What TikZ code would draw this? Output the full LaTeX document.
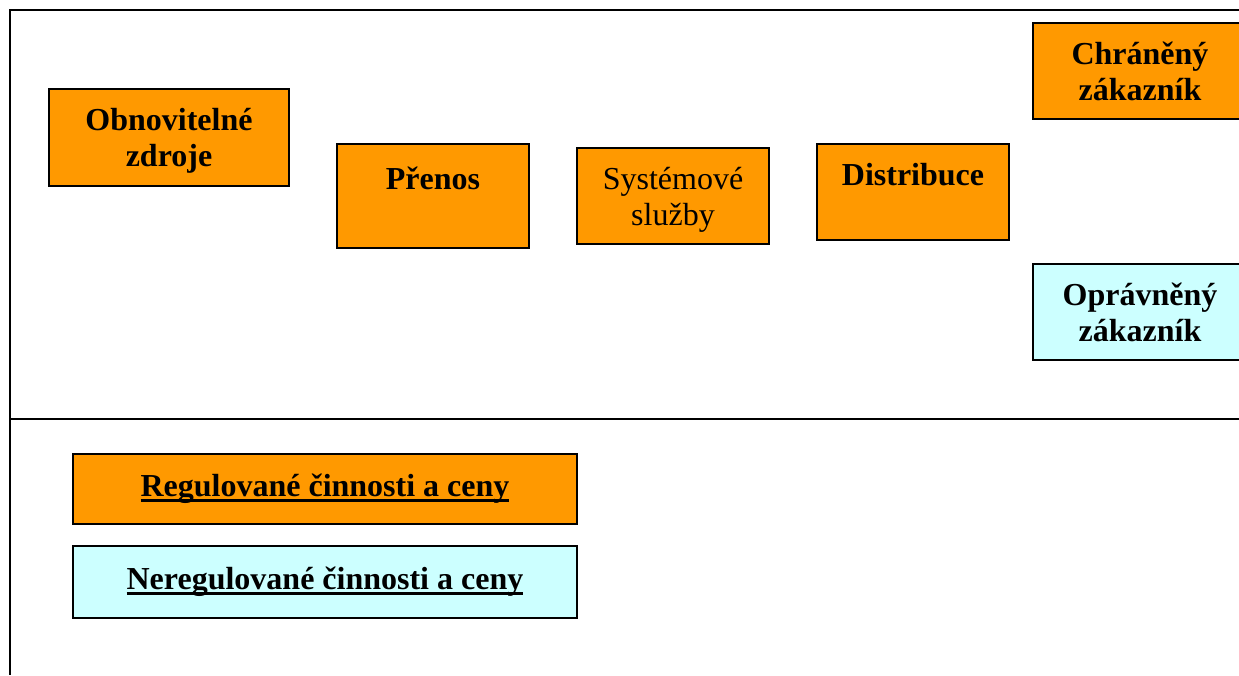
\documentclass[tikz,border=0pt]{standalone}
\usepackage{fontspec}
\setmainfont{Liberation Serif}
\usetikzlibrary{positioning}

\definecolor{regorange}{RGB}{255,153,0}
\definecolor{freecyan}{RGB}{204,255,255}

\newcommand{\thickul}[1]{\setbox0\hbox{#1}\rlap{\rule[-5pt]{\wd0}{3pt}}\box0}

\tikzset{
  box/.style={draw, line width=1.6pt, inner sep=0pt, align=center,
    font=\fontsize{32}{36}\selectfont\bfseries},
  reg/.style={box, fill=regorange},
  free/.style={box, fill=freecyan},
  low/.style={text depth=0pt},
  frame/.style={line width=2pt}
}

\begin{document}
\begin{tikzpicture}[x=1pt,y=-1pt,node distance=240pt,on grid]
      \useasboundingbox (0,0) rectangle (1239,675);
      \clip (0,0) rectangle (1239,675);
      % frame
      \coordinate (tr) at (1239,10);
      \coordinate (bl) at (10,675);
      \coordinate (ml) at (10,419);
      \coordinate (mr) at (1239,419);
      \draw[frame] (tr) -| (bl);
      \draw[frame] (ml) -- (mr);
      % upper part
      \node[reg, low, minimum width=240pt, minimum height=97pt] (obn) at (169,137.5) {Obnovitelné\\zdroje};
      \node[reg, low, minimum width=192pt, minimum height=104pt] (pre) at (433,196) {Přenos\\\strut};
      \node[reg, low, minimum width=192pt, minimum height=96pt, font=\fontsize{32}{36}\selectfont\mdseries] (sys) [right=of pre] {Systémové\\služby};
      \node[reg, low, minimum width=192pt, minimum height=96pt] (dis) [right=of sys, yshift=4pt] {Distribuce\\\strut};
      \node[reg, low, minimum width=214pt, minimum height=96pt] (chr) at (1140,71) {Chráněný\\zákazník};
      \node[free, low, minimum width=214pt, minimum height=96pt] (opr) [below=241pt of chr] {Oprávněný\\zákazník};
      % legend
      \node[reg, minimum width=504pt, minimum height=70pt] (lreg) at (325,489) {\thickul{Regulované činnosti a ceny}};
      \node[free, minimum width=504pt, minimum height=72pt] (lfree) [below=93pt of lreg] {\thickul{Neregulované činnosti a ceny}};
    \end{tikzpicture}
\end{document}
